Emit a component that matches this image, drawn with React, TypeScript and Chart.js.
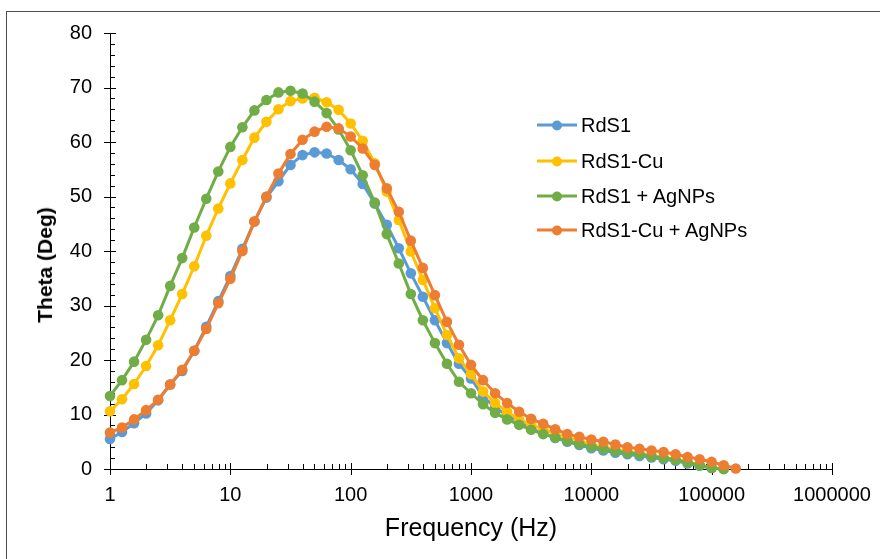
import React, { useEffect, useRef } from "react";
import { Chart, registerables } from "chart.js";

Chart.register(...registerables);

// Frequency (Hz)
const FREQ = [
  1, 1.259, 1.585, 1.995, 2.512, 3.162, 3.981, 5.012, 6.31, 7.943,
  10, 12.59, 15.85, 19.95, 25.12, 31.62, 39.81, 50.12, 63.1, 79.43,
  100, 125.9, 158.5, 199.5, 251.2, 316.2, 398.1, 501.2, 631, 794.3,
  1000, 1259, 1585, 1995, 2512, 3162, 3981, 5012, 6310, 7943,
  10000, 12589, 15849, 19953, 25119, 31623, 39811, 50119, 63096, 79433,
  100000, 125893, 158489,
];

// Theta (Deg)
const RDS1 = [
  5.5, 6.8, 8.4, 10.2, 12.6, 15.5, 18.0, 21.7, 26.1, 30.8,
  35.4, 40.4, 45.4, 49.8, 52.8, 55.8, 57.6, 58.1, 57.9, 56.7,
  55.0, 52.3, 48.7, 44.8, 40.5, 35.9, 31.6, 27.3, 23.1, 19.3,
  16.6, 13.3, 11.3, 9.8, 8.6, 7.4, 6.5, 5.7, 5.0, 4.4,
  3.8, 3.4, 3.0, 2.7, 2.4, 2.1, 1.8, 1.5, 1.0, 0.6,
  0.2, 0.0,
];
const RDS1_CU = [
  10.6, 12.8, 15.6, 18.9, 22.7, 27.3, 32.1, 37.2, 42.8, 47.8,
  52.4, 56.7, 60.8, 63.7, 66.0, 67.5, 68.0, 68.1, 67.3, 65.9,
  63.4, 60.2, 56.1, 50.9, 45.7, 39.9, 34.7, 29.5, 24.6, 20.3,
  17.4, 14.2, 12.1, 10.5, 9.1, 8.1, 7.3, 6.5, 5.8, 5.2,
  4.5, 4.0, 3.6, 3.2, 2.9, 2.5, 2.1, 1.8, 1.3, 0.8,
  0.3, 0.0,
];
const RDS1_AG = [
  13.4, 16.3, 19.7, 23.7, 28.2, 33.6, 38.7, 44.3, 49.6, 54.6,
  59.1, 62.7, 65.8, 67.7, 69.1, 69.4, 68.9, 67.4, 65.3, 62.3,
  58.5, 53.9, 48.9, 43.1, 37.7, 32.1, 27.3, 23.1, 19.3, 16.0,
  13.9, 11.9, 10.3, 9.1, 8.1, 7.2, 6.4, 5.8, 5.2, 4.6,
  4.1, 3.7, 3.3, 3.0, 2.7, 2.3, 2.0, 1.7, 1.2, 0.7,
  0.2, 0.0,
];
const RDS1_CU_AG = [
  6.7, 7.6, 9.1, 10.8, 12.7, 15.5, 18.2, 21.7, 25.7, 30.4,
  34.9, 40.0, 45.4, 50.0, 54.2, 57.8, 60.4, 61.9, 62.8, 62.5,
  61.0, 58.8, 55.8, 51.5, 47.2, 41.9, 36.9, 31.9, 27.0, 22.8,
  19.1, 16.3, 13.9, 12.1, 10.5, 9.2, 8.3, 7.3, 6.4, 5.9,
  5.4, 5.0, 4.5, 4.0, 3.7, 3.4, 3.1, 2.7, 2.2, 1.8,
  1.3, 0.7, 0.1,
];

const SERIES_NAMES = ["RdS1", "RdS1-Cu", "RdS1 + AgNPs", "RdS1-Cu + AgNPs"];
const SERIES_VALUES = [RDS1, RDS1_CU, RDS1_AG, RDS1_CU_AG];
const COLORS = ["#5B9BD5", "#FFC000", "#70AD47", "#ED7D31"];

const X_MAJOR_TICKS = [1, 10, 100, 1000, 10000, 100000, 1000000];
const X_MINOR_MULT = [2, 3, 4, 5, 6, 7, 8, 9];
const Y_MIN = 0;
const Y_MAX = 80;
const Y_STEP = 10;
const Y_MINOR_STEP = 2;

const TEXT_FONT = "'Liberation Sans', Arial, sans-serif";
const TICK_FONT_SIZE = 20;

const tickPlugin = {
  id: "customTicks",
  beforeDatasetsDraw(chart: any) {
    const { ctx, chartArea, scales } = chart;
    const x = scales.x;
    const y = scales.y;
    ctx.save();
    ctx.strokeStyle = "#000";
    ctx.lineWidth = 1;
    const yb = chartArea.bottom;
    const xl = chartArea.left;
    ctx.beginPath();
    for (let i = 0; i < X_MAJOR_TICKS.length; i++) {
      const v = X_MAJOR_TICKS[i];
      const px = Math.round(x.getPixelForValue(v)) + 0.5;
      ctx.moveTo(px, yb - 6);
      ctx.lineTo(px, yb + 6);
      if (i < X_MAJOR_TICKS.length - 1) {
        for (const m of X_MINOR_MULT) {
          const p = Math.round(x.getPixelForValue(v * m)) + 0.5;
          ctx.moveTo(p, yb - 5);
          ctx.lineTo(p, yb);
        }
      }
    }
    for (let v = Y_MIN; v <= Y_MAX; v += Y_MINOR_STEP) {
      const py = Math.round(y.getPixelForValue(v)) + 0.5;
      if (v % Y_STEP === 0) {
        ctx.moveTo(xl - 6, py);
        ctx.lineTo(xl + 6, py);
      } else {
        ctx.moveTo(xl, py);
        ctx.lineTo(xl + 5, py);
      }
    }
    ctx.stroke();
    ctx.restore();
  },
  afterDraw(chart: any) {
    const { ctx, chartArea, scales } = chart;
    const x = scales.x;
    const y = scales.y;
    ctx.save();
    ctx.fillStyle = "#000";
    ctx.font = `${TICK_FONT_SIZE}px ${TEXT_FONT}`;
    ctx.textBaseline = "middle";
    ctx.textAlign = "center";
    for (const t of x.ticks) {
      const px = x.getPixelForValue(t.value);
      ctx.fillText(String(t.value), px, chartArea.bottom + 26);
    }
    ctx.textAlign = "right";
    for (const t of y.ticks) {
      const py = y.getPixelForValue(t.value);
      ctx.fillText(String(t.value), chartArea.left - 18, py);
    }
    ctx.restore();
  },
};

export default function App() {
  const canvasRef = useRef<HTMLCanvasElement | null>(null);

  useEffect(() => {
    if (!canvasRef.current) return;
    const datasets = SERIES_NAMES.map((name, si) => ({
      label: name,
      data: SERIES_VALUES[si].map((v, i) => ({ x: FREQ[i], y: v })),
      borderColor: COLORS[si],
      backgroundColor: COLORS[si],
      pointBackgroundColor: COLORS[si],
      pointBorderColor: COLORS[si],
      pointRadius: 5.3,
      pointBorderWidth: 0,
      borderWidth: 3,
      tension: 0,
      clip: false as any,
      order: SERIES_NAMES.length - si,
    }));

    const chart = new Chart(canvasRef.current, {
      type: "line",
      data: { datasets },
      plugins: [tickPlugin],
      options: {
        animation: false,
        responsive: false,
        maintainAspectRatio: false,
        layout: { padding: { left: 0, right: 48, top: 33, bottom: 0 } },
        plugins: { legend: { display: false }, tooltip: { enabled: false } },
        scales: {
          x: {
            type: "logarithmic",
            min: 1,
            max: 1000000,
            grid: { display: false, drawTicks: false },
            border: { display: true, color: "#000", width: 1 },
            afterBuildTicks: (s: any) => {
              s.ticks = X_MAJOR_TICKS.map((v) => ({ value: v }));
            },
            afterFit: (s: any) => {
              s.height = 90;
            },
            ticks: { display: false, autoSkip: false },
          },
          y: {
            type: "linear",
            min: Y_MIN,
            max: Y_MAX,
            grid: { display: false, drawTicks: false },
            border: { display: true, color: "#000", width: 1 },
            afterFit: (s: any) => {
              s.width = 110;
            },
            ticks: { display: false, stepSize: Y_STEP },
          },
        },
      },
    });
    return () => chart.destroy();
  }, []);

  const legendTop = [125, 161, 196, 230];

  return (
    <div
      style={{
        position: "fixed",
        left: 0,
        top: 0,
        width: 880,
        height: 559,
        overflow: "hidden",
        background: "#fff",
      }}
    >
      <div
        style={{
          position: "absolute",
          left: 6,
          top: 11,
          width: 900,
          height: 600,
          border: "1px solid #4d4d4d",
          boxSizing: "border-box",
        }}
      />
      <canvas
        ref={canvasRef}
        width={880}
        height={559}
        style={{ position: "absolute", left: 0, top: 0, width: 880, height: 559 }}
      />
      <div
        style={{
          position: "absolute",
          left: 45,
          top: 265,
          transform: "translate(-50%, -50%) rotate(-90deg)",
          fontFamily: TEXT_FONT,
          fontWeight: "bold",
          fontSize: 21,
          whiteSpace: "nowrap",
          color: "#000",
        }}
      >
        Theta (Deg)
      </div>
      <div
        style={{
          position: "absolute",
          left: 471,
          top: 527,
          transform: "translate(-50%, -50%)",
          fontFamily: TEXT_FONT,
          fontSize: 25,
          whiteSpace: "nowrap",
          color: "#000",
        }}
      >
        Frequency (Hz)
      </div>
      {SERIES_NAMES.map((name, i) => (
        <div
          key={name}
          style={{
            position: "absolute",
            left: 537,
            top: legendTop[i],
            transform: "translateY(-50%)",
            display: "flex",
            alignItems: "center",
            whiteSpace: "nowrap",
          }}
        >
          <div style={{ position: "relative", width: 40, height: 10, marginRight: 4 }}>
            <div
              style={{
                position: "absolute",
                left: 0,
                top: 3.5,
                width: 40,
                height: 3,
                background: COLORS[i],
              }}
            />
            <div
              style={{
                position: "absolute",
                left: 15,
                top: 0,
                width: 10,
                height: 10,
                borderRadius: 5,
                background: COLORS[i],
              }}
            />
          </div>
          <span style={{ fontFamily: TEXT_FONT, fontSize: 20, color: "#000" }}>{name}</span>
        </div>
      ))}
    </div>
  );
}
